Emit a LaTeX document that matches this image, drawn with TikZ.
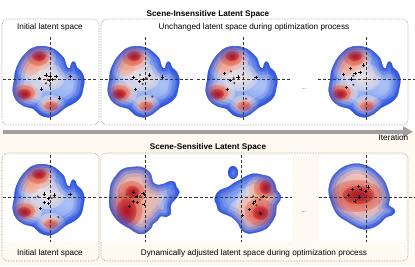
\documentclass[tikz,border=0pt]{standalone}
\usepackage{fontspec}
\setmainfont{Liberation Sans}
\usepackage{tikz}
\usetikzlibrary{arrows.meta, positioning, fadings}

\definecolor{cream}{RGB}{254,250,241}
\definecolor{boxgray}{RGB}{150,150,150}
\definecolor{axisgray}{RGB}{55,55,55}
\definecolor{dotgray}{RGB}{75,75,75}
\definecolor{arrowgray}{RGB}{160,160,160}
\definecolor{cwedge}{RGB}{40,76,218}
\definecolor{cwmid}{RGB}{92,130,234}
\definecolor{cwlight}{RGB}{172,194,246}
\definecolor{cwpale}{RGB}{238,226,224}
\definecolor{cwwarm}{RGB}{242,166,144}
\definecolor{cwhot}{RGB}{220,88,74}
\definecolor{cwcore}{RGB}{178,20,36}

\pgfdeclareradialshading{softdisc}{\pgfpointorigin}{color(0bp)=(white); color(8bp)=(white!85!black); color(22bp)=(white!45!black); color(38bp)=(white!12!black); color(50bp)=(black)}
\pgfdeclarefading{soft}{\pgfuseshading{softdisc}}

\newcommand{\pluses}[1]{\foreach \px/\py in {#1}{\draw[mkplus] (\px,\py) +(-1.6,0) -- +(1.6,0) +(0,-1.6) -- +(0,1.6);}}
\newcommand{\markdots}[1]{\foreach \px/\py in {#1}{\fill[mkdot] (\px,\py) circle (1.2);}}
\newcommand{\drawaxes}[4]{\draw[crossaxis] (#1,0) -- (#2,0) (0,#3) -- (0,#4);}
\newcommand{\rim}[1]{%
  \draw[rimband=20pt, opacity=0.15] #1; \draw[rimband=13pt, opacity=0.25] #1;
  \draw[rimband=7pt, opacity=0.35] #1; \draw[rimband=3pt, opacity=0.5] #1;}

% initial map, kept unchanged in the upper row
\newcommand{\heatA}{%
  \fill[cwmid] (-50,-50) rectangle (50,50);
  \fill[spot, cwlight] (-4,0) ellipse (30 and 32);
  \fill[spot, cwlight] (18,6) ellipse (14 and 14);
  \fill[spot, cwpale] (-3,-2) ellipse (18 and 14);
  \fill[spot, cwpale] (-20,-12) ellipse (14 and 14);
  \fill[spot, cwpale] (-12,-22) ellipse (18 and 16);
  \fill[spot, cwwarm] (-20,-13) ellipse (10 and 10);
  \fill[spot, cwwarm] (-13,-21) ellipse (16 and 13);
  \fill[spot, cwhot] (-12,-22) ellipse (11 and 9);
  \fill[spot, cwcore] (-11,-23) ellipse (7 and 5);
  \fill[spot, cwpale] (-26,14) ellipse (18 and 14);
  \fill[spot, cwwarm] (-26,14) ellipse (14 and 10);
  \fill[spot, cwhot] (-26,14) ellipse (11 and 8);
  \fill[spot, cwcore] (-26,15) ellipse (7 and 5);
  \fill[spot, cwpale] (1,26) ellipse (14 and 10);
  \fill[spot, cwwarm] (1,27) ellipse (10 and 7);
  \fill[spot, cwhot] (1,27) ellipse (7 and 5);
  \rim{\blobA}
}

\begin{document}
\begin{tikzpicture}[x=1pt, y=-1pt,
  panelbox/.style={draw=boxgray, densely dotted, line width=0.6pt, rounded corners=6pt},
  caption/.style={font=\fontsize{8.2}{9.8}\selectfont, anchor=base, inner sep=0pt},
  heading/.style={caption, font=\fontsize{8.2}{9.8}\selectfont\bfseries},
  crossaxis/.style={draw=axisgray, densely dashed, line width=0.45pt},
  mkplus/.style={draw=black, line width=0.55pt},
  mkdot/.style={fill=dotgray},
  spot/.style={path fading=soft},
  rimband/.style={draw=cwedge, line width=#1},
  plotpanel/.style={fill=white},
  iterarrow/.style={draw=arrowgray, line width=4.5pt, -{Triangle[length=10pt, width=10.5pt]}},
]
\def\blobA{plot[smooth cycle, tension=0.6] coordinates {(-18,-31) (-8,-33) (2,-31) (8,-27) (14,-21) (16,-15) (17.5,-11.5) (20,-11) (21,-15) (23,-17.5) (25.5,-16) (27,-11.5) (31.5,-7.5) (34.5,0) (33.5,8) (31,17.5) (25,23.5) (15,29) (7,35.5) (-1.5,38.5) (-10,36) (-16.5,30) (-26.5,27) (-34,21) (-37.5,11.5) (-36,2) (-35,-7) (-32,-15) (-27,-23)}}
\def\blobB{plot[smooth cycle, tension=0.6] coordinates {(-14,-30) (-4,-30) (2.5,-26.5) (6,-21.5) (7.5,-15) (12.5,-12) (19,-13.5) (25,-16) (29.5,-14.5) (31,-10) (34,-5) (30.5,1.5) (27,5) (25,10) (25.5,16.5) (20.5,20) (15.5,19) (12,23.5) (7.5,27) (5.5,31.5) (-1,36.5) (-8,36.5) (-16,31.5) (-24.5,26.5) (-31,20) (-36,10) (-36,-2) (-34.5,-13.5) (-29.5,-21.5) (-23,-28)}}
\def\blobC{plot[smooth cycle, tension=0.6] coordinates {(3,-20) (11.5,-23.5) (21.5,-22) (28.5,-20) (33.5,-13.5) (35,-7) (39,-2) (38.5,3.5) (35,8.5) (34.5,16.5) (31.5,23.5) (25,31.5) (16.5,35) (6.5,36.5) (0,33) (-3.5,26.5) (-10,20) (-18.5,16.5) (-23.5,13) (-25,7) (-27,3) (-25,-3.5) (-21.5,-7) (-13.5,-10) (-7,-14.5) (-2,-17)} (-8.5,-24.5) ellipse (5 and 6.5)}
\def\blobD{plot[smooth cycle, tension=0.6] coordinates {(-20,-31.5) (-8.5,-33.5) (3,-30) (10,-25) (15,-20) (18.5,-15) (21.5,-7) (23.5,1.5) (22,8) (26.5,11) (28.5,15) (25,18.5) (20,20) (15,25) (8,30) (-2,32.5) (-10,30) (-18.5,25) (-28.5,18.5) (-33.5,10) (-36.5,1.5) (-38,-7) (-35,-18.5) (-28.5,-26.5)}}

\useasboundingbox (0,0) rectangle (415,266);
\fill[white] (0,0) rectangle (415,131);
\fill[cream] (0,131) rectangle (415,266);

% scene-insensitive row
\node[heading] (titleA) at (208,16.2) {Scene-Insensitive Latent Space};
\draw[panelbox] (2,19) rectangle (99,125);
\draw[panelbox] (101,19) rectangle (408,125);
\node[caption] (initA) at (50,29.4) {Initial latent space};
\node[caption] (keepA) at (254,29.4) {Unchanged latent space during optimization process};

\begin{scope}[shift={(50,79)}]
  \begin{scope} \clip \blobA; \heatA \end{scope}
  \drawaxes{-47}{47}{-42}{43}
  \pluses{-10.7/-0.7, -4/-4, 0/-2.3, 2.7/0.3, 6/-2.7, -1/1.7, -8.3/10, 9.3/19, 20.7/-2.7}
  \markdots{-2.3/0.7, 0/6.7, -4/4.3}
\end{scope}
\begin{scope}[shift={(145,79)}]
  \begin{scope} \clip \blobA; \heatA \end{scope}
  \drawaxes{-45}{50}{-42}{43}
  \pluses{-11.7/-1.7, -1.7/0.3, 4.3/-4, -5.7/2.7, -9.7/10.3, 17.7/-2}
  \markdots{-5/-4, 1.7/-0.7, -2.3/5, 7.3/17.7}
\end{scope}
\begin{scope}[shift={(243,79)}]
  \begin{scope} \clip \blobA; \heatA \end{scope}
  \drawaxes{-46}{47}{-42}{43}
  \pluses{-18.7/-5.3, -5/-2, -12.7/1.7, -15.3/10.7, 13/-1.7}
  \markdots{-12/-7.7, 0/-4.3, -9.3/-1, -8.7/4, 3/19.7}
\end{scope}
\node[caption, font=\fontsize{6}{7}\selectfont, text=dotgray] (gapA) at (304,89) {...};
\begin{scope}[shift={(366,79)}]
  \begin{scope} \clip \blobA; \heatA \end{scope}
  \drawaxes{-48}{49}{-42}{43}
  \pluses{-15.3/-10.7, -2.7/-14, -6/-6.7, -11/-5.7, -22.3/-4.3, -14.3/0, -19.3/8.3}
  \markdots{-12.7/-3.3, -12.7/5.7, 0/20}
\end{scope}

% iteration axis
\coordinate (tail) at (3,131.8);
\coordinate (head) at (413,131.8);
\draw[iterarrow] (tail) -- (head);
\node[caption, anchor=base east] (iter) at (408.5,140.8) {Iteration};

% scene-sensitive row
\node[heading] (titleB) at (208,149.4) {Scene-Sensitive Latent Space};
\draw[panelbox] (2,153) rectangle (99,261);
\draw[panelbox] (101,153) rectangle (408,261);

\begin{scope}[shift={(50,197)}]
  \fill[plotpanel] (-47,-42) rectangle (47,45);
  \begin{scope} \clip \blobA; \heatA \end{scope}
  \drawaxes{-47}{47}{-42}{45}
  \pluses{-5.7/-3, 4.3/-2, -1.7/1.7, -5.7/5.4, -1.3/6.7, -9.3/11.7, 20/-2.3}
  \markdots{-12.3/-0.6, 1.7/1, 8.3/20}
\end{scope}
\begin{scope}[shift={(145.5,197)}]
  \fill[plotpanel] (-45,-42) rectangle (52,45);
  \begin{scope}
    \clip \blobB;
    \fill[cwmid] (-50,-50) rectangle (50,50);
    \fill[spot, cwlight] (-10,2) ellipse (40 and 46);
    \fill[spot, cwpale] (-14,2) ellipse (36 and 44);
    \fill[spot, cwwarm] (-15,3) ellipse (30 and 38);
    \fill[spot, cwhot] (-14,-4) ellipse (14 and 12);
    \fill[spot, cwhot] (-19,13) ellipse (16 and 18);
    \fill[spot, cwcore] (-13,-5) ellipse (7 and 6);
    \fill[spot, cwcore] (-19,14) ellipse (10 and 13);
    \rim{\blobB}
  \end{scope}
  \drawaxes{-47}{52}{-42}{45}
  \pluses{-12/-5, -8.7/-0.7, -2.7/-3.3, -1/-2.3, -12/4.3, -8.3/5.7, -16/9.3, -1.7/7.3}
  \markdots{-18.7/-2.3, -5/-0.7}
\end{scope}
\begin{scope}[shift={(241.5,197)}]
  \fill[plotpanel] (-46,-42) rectangle (50,45);
  \begin{scope}
    \clip \blobC;
    \fill[cwmid] (-50,-50) rectangle (50,50);
    \fill[spot, cwlight] (14,6) ellipse (36 and 40);
    \fill[spot, cwpale] (4,18) ellipse (18 and 18);
    \fill[spot, cwpale] (13,6) ellipse (18 and 18);
    \fill[spot, cwpale] (22,-5) ellipse (18 and 18);
    \fill[spot, cwwarm] (23,-8) ellipse (16 and 14);
    \fill[spot, cwwarm] (17,15) ellipse (22 and 20);
    \fill[spot, cwhot] (23,-9) ellipse (11 and 10);
    \fill[spot, cwhot] (18,15) ellipse (15 and 14);
    \fill[spot, cwcore] (24,-10) ellipse (6 and 7);
    \fill[spot, cwcore] (19,16) ellipse (8 and 7);
    \rim{\blobC}
  \end{scope}
  \drawaxes{-47}{50}{-42}{45}
  \pluses{21.7/-0.7, 13.3/4.3, 11.7/6.7, 7.7/12.7, 1/18.3, 19/16.7}
  \markdots{11.7/-0.7, 18.3/2.7, 15/8.3}
\end{scope}
\node[caption, font=\fontsize{6}{7}\selectfont, text=dotgray] (gapB) at (304,212) {...};
\begin{scope}[shift={(366.5,197)}]
  \fill[plotpanel] (-48,-42) rectangle (39,45);
  \begin{scope}
    \clip \blobD;
    \fill[cwmid] (-50,-50) rectangle (50,50);
    \fill[spot, cwlight] (-9,-4) ellipse (40 and 40);
    \fill[spot, cwpale] (-10,-24) ellipse (12 and 10);
    \fill[spot, cwpale] (-10,-3) ellipse (40 and 32);
    \fill[spot, cwwarm] (-10,-2) ellipse (34 and 24);
    \fill[spot, cwhot] (-10,-1) ellipse (26 and 16);
    \fill[spot, cwcore] (-8,-2) ellipse (16 and 9);
    \rim{\blobD}
  \end{scope}
  \drawaxes{-48}{48.5}{-42}{45}
  \pluses{-14.3/-7.7, -8.3/-10.7, -5.7/-7.3, -1/-5.7, 1.7/-10, -18.3/-1.7, -7.3/0, -11.7/4}
  \markdots{-8.3/-2.3, -3.3/0}
\end{scope}

\node[caption] (initB) at (50,255.2) {Initial latent space};
\node[caption] (moveB) at (254,255.2) {Dynamically adjusted latent space during optimization process};
\end{tikzpicture}
\end{document}
